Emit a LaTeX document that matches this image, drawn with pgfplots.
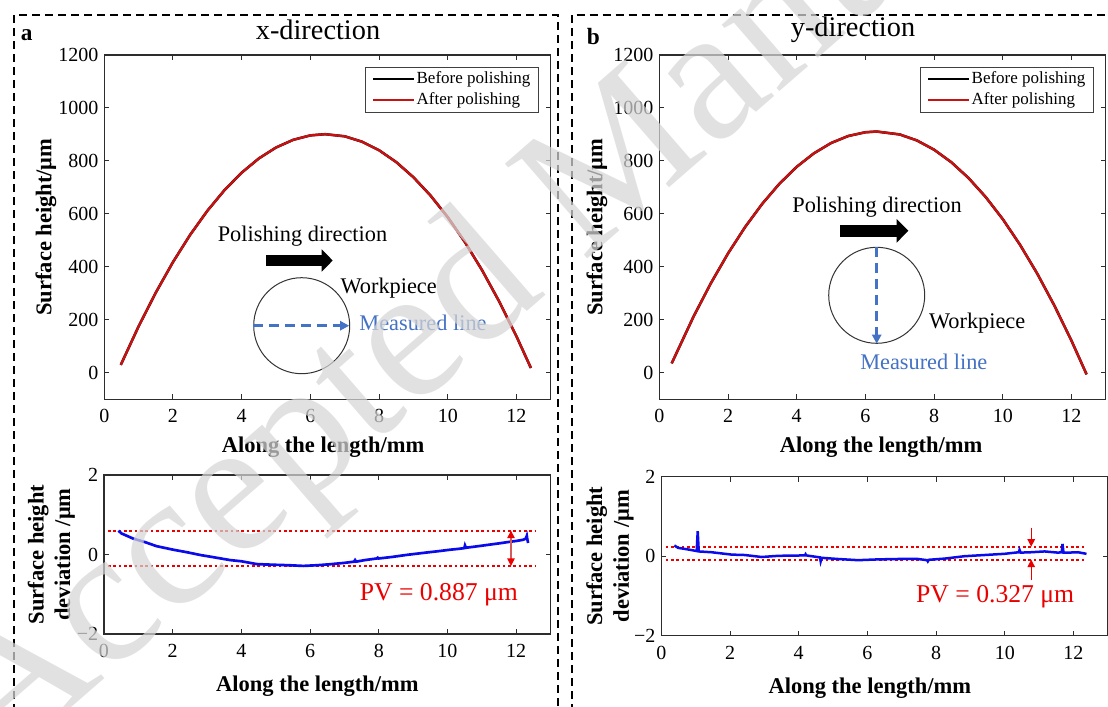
\documentclass[border=0pt]{standalone}
\usepackage{pgfplots}
\pgfplotsset{compat=1.18}
\usepackage{fontspec}
\setmainfont{Liberation Serif}
\usetikzlibrary{arrows.meta}

\newlength{\px}\setlength{\px}{0.6pt}
\definecolor{axisgray}{RGB}{45,45,45}
\definecolor{curvered}{RGB}{200,18,18}
\definecolor{devblue}{RGB}{10,10,235}
\definecolor{pvred}{RGB}{235,0,0}
\definecolor{linkblue}{RGB}{68,114,196}
\definecolor{arrowred}{RGB}{215,90,90}

\pgfplotsset{
  panel/.style={
    scale only axis,
    axis line style={axisgray, line width=0.7pt},
    tick style={axisgray, line width=0.6pt},
    tick align=inside, major tick length=3pt,
    xmin=0, xmax=13, xtick={0,2,...,12},
    /pgf/number format/assume math mode=true,
    /pgf/number format/1000 sep={},
    tick label style={font=\fontsize{12}{14}\selectfont, text=black},
    xticklabel style={yshift=-2.6pt},
    label style={font=\bfseries\fontsize{13.5}{16}\selectfont},
    xlabel={Along the length/mm},
  },
  profile/.style={
    panel, width=446.5*\px, height=344.3*\px,
    ymin=-100, ymax=1200, ytick={0,200,...,1200},
    ylabel={Surface height/μm},
    xlabel style={at={(axis description cs:0.49,-0.1377)}, anchor=center},
    legend cell align=left,
    legend style={at={(axis description cs:0.974,0.966)}, anchor=north east,
      draw=black!75, line width=0.5pt, fill=white, inner xsep=4pt, inner ysep=1.5pt,
      row sep=1.6pt, font=\fontsize{10.2}{12}\selectfont,
      nodes={inner xsep=1pt, inner ysep=0.5pt, text height=7.8pt, text depth=2.4pt}},
    legend image code/.code={\draw[#1, line width=1.1pt] (0pt,0pt) -- (24.6pt,0pt);},
  },
  deviation/.style={
    panel, width=446.5*\px, height=159*\px,
    ymin=-2, ymax=2, ytick={-2,0,2}, yticklabels={−2,0,2},
    ylabel={Surface height\\deviation /μm},
    ylabel style={align=center, anchor=center},
  },
}

\begin{document}
\begin{tikzpicture}
\useasboundingbox (0,0) rectangle (1108*\px,-706*\px);
\clip (0,0) rectangle (1108*\px,-706*\px);

% ---------- (a) x-direction: profile ----------
\begin{axis}[profile, at={(104.3*\px,-399.3*\px)}, anchor=south west,
  ylabel style={at={(axis description cs:-0.1306,0.5)}, anchor=center}]
\addplot[black, line width=1.5pt] coordinates {
 (0.48,30.1) (1.0,175.7) (1.5,303.1) (2.0,418.2) (2.5,521.1) (3.0,611.6)
 (3.5,689.8) (4.0,755.7) (4.5,809.4) (5.0,850.7) (5.5,879.7) (6.0,896.5)
 (6.43,901.0) (7.0,893.0) (7.5,872.8) (8.0,840.4) (8.5,795.6) (9.0,738.5)
 (9.5,669.1) (10.0,587.5) (10.5,493.5) (11.0,387.2) (11.5,268.7) (12.0,137.8)
 (12.42,18.4)};
\addlegendentry{Before polishing}
\addplot[curvered, line width=1.4pt] coordinates {
 (0.48,30.1) (1.0,175.7) (1.5,303.1) (2.0,418.2) (2.5,521.1) (3.0,611.6)
 (3.5,689.8) (4.0,755.7) (4.5,809.4) (5.0,850.7) (5.5,879.7) (6.0,896.5)
 (6.43,901.0) (7.0,893.0) (7.5,872.8) (8.0,840.4) (8.5,795.6) (9.0,738.5)
 (9.5,669.1) (10.0,587.5) (10.5,493.5) (11.0,387.2) (11.5,268.7) (12.0,137.8)
 (12.42,18.4)};
\addlegendentry{After polishing}
\end{axis}

% ---------- (b) y-direction: profile ----------
\begin{axis}[profile, at={(659.3*\px,-399.3*\px)}, anchor=south west,
  ylabel style={at={(axis description cs:-0.1395,0.5)}, anchor=center},
  xlabel style={at={(axis description cs:0.497,-0.1377)}}]
\addplot[black, line width=1.5pt] coordinates {
 (0.36,35.7) (1.0,213.3) (1.5,338.0) (2.0,450.5) (2.5,550.7) (3.0,638.6)
 (3.5,714.3) (4.0,777.7) (4.5,828.7) (5.0,867.6) (5.5,894.1) (6.0,908.3)
 (6.33,911.0) (7.0,900.0) (7.5,877.4) (8.0,842.5) (8.5,795.3) (9.0,735.9)
 (9.5,664.2) (10.0,580.2) (10.5,483.9) (11.0,375.4) (11.5,254.5) (12.0,121.4)
 (12.44,-5.8)};
\addlegendentry{Before polishing}
\addplot[curvered, line width=1.4pt] coordinates {
 (0.36,35.7) (1.0,213.3) (1.5,338.0) (2.0,450.5) (2.5,550.7) (3.0,638.6)
 (3.5,714.3) (4.0,777.7) (4.5,828.7) (5.0,867.6) (5.5,894.1) (6.0,908.3)
 (6.33,911.0) (7.0,900.0) (7.5,877.4) (8.0,842.5) (8.5,795.3) (9.0,735.9)
 (9.5,664.2) (10.0,580.2) (10.5,483.9) (11.0,375.4) (11.5,254.5) (12.0,121.4)
 (12.44,-5.8)};
\addlegendentry{After polishing}
\end{axis}

% ---------- (a) deviation ----------
\begin{axis}[deviation, at={(104*\px,-634*\px)}, anchor=south west,
  ylabel style={at={(axis description cs:-0.118,0.5)}},
  xlabel style={at={(axis description cs:0.478,-0.331)}, anchor=center}]
\addplot[pvred, line width=1.1pt, dash pattern=on 1.6pt off 1.6pt] coordinates {(0.12,0.60) (12.55,0.60)};
\addplot[pvred, line width=1.1pt, dash pattern=on 1.6pt off 1.6pt] coordinates {(0.12,-0.287) (12.55,-0.287)};
\addplot[devblue, line width=1.6pt] coordinates {
 (0.42,0.60) (0.47,0.56) (0.51,0.53) (0.85,0.40) (1.2,0.31) (1.53,0.21)
 (2.02,0.12) (2.4,0.06) (2.79,-0.01) (3.2,-0.07) (3.67,-0.14) (4.0,-0.17)
 (4.44,-0.24) (4.7,-0.25) (5.03,-0.26) (5.4,-0.27) (5.80,-0.287) (6.2,-0.27)
 (6.58,-0.245) (7.0,-0.21) (7.28,-0.18) (7.31,-0.14) (7.34,-0.18) (7.6,-0.14)
 (7.94,-0.10) (7.97,-0.08) (8.0,-0.10) (8.4,-0.06) (8.81,-0.01) (9.1,0.02)
 (9.39,0.05) (9.7,0.08) (10.07,0.12) (10.3,0.14) (10.49,0.16) (10.51,0.23)
 (10.54,0.17) (10.9,0.21) (11.24,0.25) (11.5,0.28) (11.82,0.32) (12.0,0.34)
 (12.2,0.37) (12.28,0.40) (12.31,0.47) (12.33,0.36) (12.35,0.29)};
\draw[arrowred, line width=0.7pt,
  {Triangle[length=4.5pt,width=4.5pt,color=pvred]}-{Triangle[length=4.5pt,width=4.5pt,color=pvred]}]
  (axis cs:11.85,0.60) -- (axis cs:11.85,-0.287);
\node[pvred, font=\fontsize{15.4}{18}\selectfont] at (axis cs:9.75,-1.0) {PV = 0.887 μm};
\end{axis}

% ---------- (b) deviation ----------
\begin{axis}[deviation, at={(661.3*\px,-635.7*\px)}, anchor=south west,
  ylabel style={at={(axis description cs:-0.115,0.5)}},
  xlabel style={at={(axis description cs:0.467,-0.331)}, anchor=center}]
\addplot[pvred, line width=1.1pt, dash pattern=on 1.6pt off 1.6pt] coordinates {(0.13,0.24) (12.32,0.24)};
\addplot[pvred, line width=1.1pt, dash pattern=on 1.6pt off 1.6pt] coordinates {(0.13,-0.087) (12.32,-0.087)};
\addplot[devblue, line width=1.5pt] coordinates {
 (0.38,0.27) (0.49,0.21) (0.78,0.17) (1.03,0.13) (1.06,0.63) (1.09,0.12)
 (1.46,0.10) (2.05,0.04) (2.43,0.03) (2.92,-0.02) (3.41,0.01) (4.18,0.02)
 (4.20,0.05) (4.22,0.02) (4.62,-0.03) (4.64,-0.13) (4.67,-0.04) (5.14,-0.07)
 (5.73,-0.10) (6.31,-0.08) (6.89,-0.07) (7.47,-0.07) (7.74,-0.10) (7.76,-0.13)
 (7.79,-0.09) (8.25,-0.06) (8.83,0.00) (9.41,0.03) (9.99,0.06) (10.41,0.10)
 (10.43,0.16) (10.46,0.09) (10.77,0.10) (11.16,0.12) (11.55,0.09) (11.66,0.10)
 (11.68,0.31) (11.71,0.09) (11.84,0.09) (12.13,0.10) (12.38,0.06)};
\draw[pvred, line width=0.7pt, -{Triangle[length=4.5pt,width=4.5pt]}]
  (axis cs:10.77,0.72) -- (axis cs:10.77,0.24);
\draw[pvred, line width=0.7pt, -{Triangle[length=4.5pt,width=4.5pt]}]
  (axis cs:10.77,-0.61) -- (axis cs:10.77,-0.087);
\node[pvred, font=\fontsize{15.4}{18}\selectfont] at (axis cs:9.72,-1.01) {PV = 0.327 μm};
\end{axis}

% ---------- frames, titles and sketches ----------
\begin{scope}[x=\px, y=-\px]
\draw[black, line width=1.2pt, dash pattern=on 4.8pt off 3pt]
  (14.3,725) -- (14.3,15) -- (558,15) -- (558,725);
\draw[black, line width=1.2pt, dash pattern=on 4.8pt off 3pt]
  (571.7,725) -- (571.7,15) -- (1130,15);

\node[font=\bfseries\fontsize{14}{16}\selectfont] at (26.8,35.5) {a};
\node[font=\bfseries\fontsize{14}{16}\selectfont] at (593.3,36.7) {b};

% workpiece sketch, x-direction
\node[font=\fontsize{13.4}{16}\selectfont] at (302.5,236) {Polishing direction};
\fill[black] (266,255) rectangle (321.7,266);
\fill[black] (321.7,249.3) -- (332.7,260.5) -- (321.7,271.7) -- cycle;
\draw[black!80, line width=0.6pt] (301.7,325.7) circle[radius=48];
\draw[linkblue, line width=1.8pt, dash pattern=on 6pt off 3.6pt] (253.3,325.7) -- (341,325.7);
\fill[linkblue] (340,320.7) -- (349,325.7) -- (340,330.7) -- cycle;
\node[font=\fontsize{13.4}{16}\selectfont] at (388.7,288.3) {Workpiece};
\node[linkblue, font=\fontsize{13.4}{16}\selectfont] at (423,322.7) {Measured line};

% workpiece sketch, y-direction
\node[font=\fontsize{13.4}{16}\selectfont] at (877,206.7) {Polishing direction};
\fill[black] (840,225) rectangle (896.7,236.7);
\fill[black] (896.7,219) -- (908.3,230.8) -- (896.7,242.6) -- cycle;
\draw[black!80, line width=0.6pt] (876.7,295.3) circle[radius=48];
\draw[linkblue, line width=1.8pt, dash pattern=on 6pt off 3.6pt] (876.7,247.3) -- (876.7,335);
\fill[linkblue] (871.7,334.5) -- (876.7,343.5) -- (881.7,334.5) -- cycle;
\node[font=\fontsize{13.4}{16}\selectfont] at (977.2,322.7) {Workpiece};
\node[linkblue, font=\fontsize{13.4}{16}\selectfont] at (923.8,361.7) {Measured line};

% watermark
\node[rotate=41, anchor=base west, inner sep=0pt, text=black!16, text opacity=0.72,
  font=\fontsize{115}{115}\selectfont] at (1,769) {Accepted Manuscript};

% panel titles, set above the watermark
\node[font=\fontsize{17}{20}\selectfont] at (318,30) {x-direction};
\node[font=\fontsize{17}{20}\selectfont] at (853,30) {y-direction};
\end{scope}
\end{tikzpicture}
\end{document}
